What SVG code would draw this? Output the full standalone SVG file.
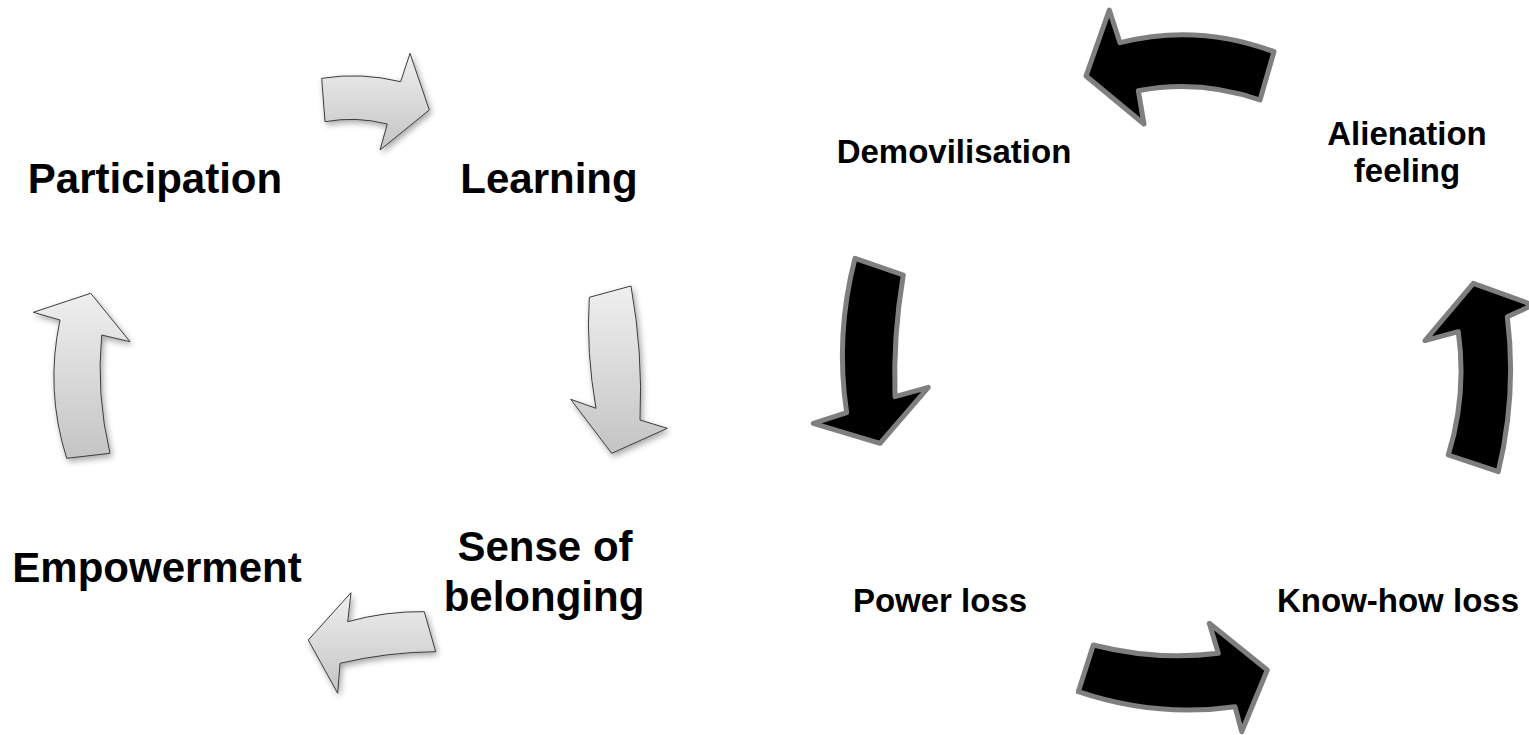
<svg xmlns="http://www.w3.org/2000/svg" width="1529" height="735" viewBox="0 0 1529 735">
  <style>
    .lbl { font-family: "Liberation Sans", Arial, sans-serif; font-weight: bold; fill: #000; text-anchor: middle; }
    .big { font-size: 42px; }
    .small { font-size: 33px; }
    .light { fill: url(#silver); stroke: #3c3c3c; stroke-width: 1; stroke-linejoin: miter; filter: url(#shade); }
    .dark { fill: #000; stroke: #7f7f7f; stroke-width: 5; stroke-linejoin: round; }
  </style>
  <defs>
    <linearGradient id="silver" x1="0" y1="0" x2="0" y2="1">
      <stop offset="0" stop-color="#efefef"/>
      <stop offset="1" stop-color="#c4c4c4"/>
    </linearGradient>
    <filter id="shade" x="-20%" y="-20%" width="140%" height="140%">
      <feGaussianBlur in="SourceAlpha" stdDeviation="3"/>
      <feOffset dx="2" dy="3" result="b"/>
      <feComponentTransfer><feFuncA type="linear" slope="0.35"/></feComponentTransfer>
      <feMerge><feMergeNode/><feMergeNode in="SourceGraphic"/></feMerge>
    </filter>
  </defs>

  <rect width="1529" height="735" fill="#fff"/>

  <!-- curved arrows of both cycles -->
  <g id="connectors">
    <!-- positive cycle -->
    <path class="light" d="M321.7,78.3 Q361,72 400.7,81.7 L410,53.3 L429.3,110 L380,150 L387.3,124 Q356,116 325,121.7 Z"/>
    <path class="light" d="M589.3,297.3 L631,286 Q643,353 640,420 L667.3,428.3 L611.7,453.3 L570.7,399.3 L596,408.3 Q586,352 589.3,297.3 Z"/>
    <path class="light" d="M308.3,640 L351,592.7 L347.7,621.7 Q386,611 424.3,611.7 L435.7,651.7 Q388,652 340,663.3 L337.7,693.3 Z"/>
    <path class="light" d="M33.3,312.3 L90.7,293.3 L130,341.7 L101.7,335 Q96,395 110,453.3 L66.7,458.3 Q45,390 60,320 Z"/>
    <!-- negative cycle -->
    <path class="dark" d="M1086,76 L1109.3,10 L1120,42.7 Q1197,23 1274,51.7 L1260,100 Q1199,79 1138.3,90.7 L1144,124 Z"/>
    <path class="dark" d="M855,258.3 L903.3,275 Q893,336 895,396.7 L928.3,387.3 L880,443.3 L813.3,423.3 L846.7,412.7 Q835,335 855,258.3 Z"/>
    <path class="dark" d="M1093.3,645 Q1156,661 1218.3,653.3 L1209.3,623.3 L1267.3,670 L1241.7,731.7 L1235,706.7 Q1156,718 1078.3,691.7 Z"/>
    <path class="dark" d="M1425,340.7 L1473.3,283.3 L1533,305 L1507.3,316.7 Q1517,394 1498.3,471.7 L1448.3,455 Q1467,394 1458.3,331.7 Z"/>
  </g>

  <g id="participation"><text class="lbl big" x="155" y="193">Participation</text></g>
  <g id="learning"><text class="lbl big" x="549" y="193">Learning</text></g>
  <g id="belonging">
    <text class="lbl big" x="545" y="561">Sense of</text>
    <text class="lbl big" x="544" y="611">belonging</text>
  </g>
  <g id="empowerment"><text class="lbl big" x="157" y="582">Empowerment</text></g>

  <g id="demovilisation"><text class="lbl small" x="954" y="163">Demovilisation</text></g>
  <g id="alienation">
    <text class="lbl small" x="1407" y="145">Alienation</text>
    <text class="lbl small" x="1407" y="182">feeling</text>
  </g>
  <g id="power-loss"><text class="lbl small" x="940" y="612">Power loss</text></g>
  <g id="know-how-loss"><text class="lbl small" x="1398" y="612">Know-how loss</text></g>
</svg>
